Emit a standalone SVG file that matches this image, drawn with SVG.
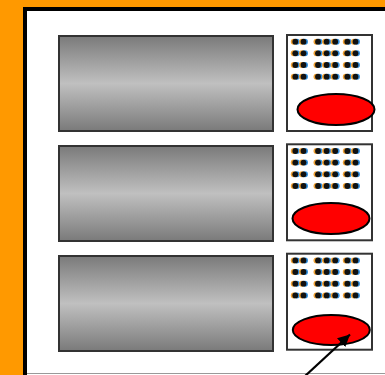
<svg xmlns="http://www.w3.org/2000/svg" width="385" height="375" viewBox="0 0 385 375">
<defs>
<linearGradient id="g" x1="0" y1="0" x2="0" y2="1">
<stop offset="0" stop-color="#7a7a7a"/>
<stop offset="0.5" stop-color="#c0c0c0"/>
<stop offset="1" stop-color="#7a7a7a"/>
</linearGradient>
<g id="dot">
<circle cx="-1.5" cy="0" r="3" fill="#f0a030"/>
<circle cx="1.5" cy="0" r="3" fill="#3090e0"/>
<circle cx="0" cy="0" r="2.9" fill="#111"/>
</g>
<g id="row">
<use href="#dot" x="295.3"/><use href="#dot" x="303.5"/>
<use href="#dot" x="318"/><use href="#dot" x="326.6"/><use href="#dot" x="335.2"/>
<use href="#dot" x="347.3"/><use href="#dot" x="355.5"/>
</g>
<g id="dots">
<use href="#row" y="7.7"/><use href="#row" y="19.3"/><use href="#row" y="31"/><use href="#row" y="42.7"/>
</g>
<marker id="ah" viewBox="0 0 10 10" refX="10" refY="5" markerWidth="5.5" markerHeight="5.5" orient="auto" markerUnits="strokeWidth">
<path d="M0,0 L10,5 L0,10 z" fill="#000"/>
</marker>
<style>
.bar{fill:url(#g);stroke:#333;stroke-width:2}
.panel{fill:#fff;stroke:#333;stroke-width:2}
.btn{fill:#f00;stroke:#000;stroke-width:2}
</style>
</defs>
<rect x="0" y="0" width="385" height="375" fill="#ff9900"/>
<rect x="25" y="9" width="362" height="368" fill="#fff" stroke="#000" stroke-width="4"/>
<line x1="27" y1="373.5" x2="385" y2="373.5" stroke="#999" stroke-width="1"/>
<g id="unit1">
<rect class="bar" x="59" y="36" width="214" height="95"/>
<rect class="panel" x="287" y="35" width="85" height="96"/>
<use href="#dots" y="34"/>
<ellipse class="btn" cx="336" cy="109.5" rx="38.5" ry="15.5"/>
</g>
<g id="unit2">
<rect class="bar" x="59" y="146" width="214" height="95"/>
<rect class="panel" x="287" y="144.3" width="85" height="96"/>
<use href="#dots" y="143.3"/>
<ellipse class="btn" cx="331" cy="218.5" rx="38.5" ry="15.5"/>
</g>
<g id="unit3">
<rect class="bar" x="59" y="256" width="214" height="95"/>
<rect class="panel" x="287" y="253.7" width="85" height="96"/>
<use href="#dots" y="252.7"/>
<ellipse class="btn" cx="331.3" cy="330" rx="38.5" ry="15"/>
</g>
<g id="connectors">
<line x1="304" y1="377" x2="350" y2="334.5" stroke="#000" stroke-width="2.2" marker-end="url(#ah)"/>
</g>
</svg>
